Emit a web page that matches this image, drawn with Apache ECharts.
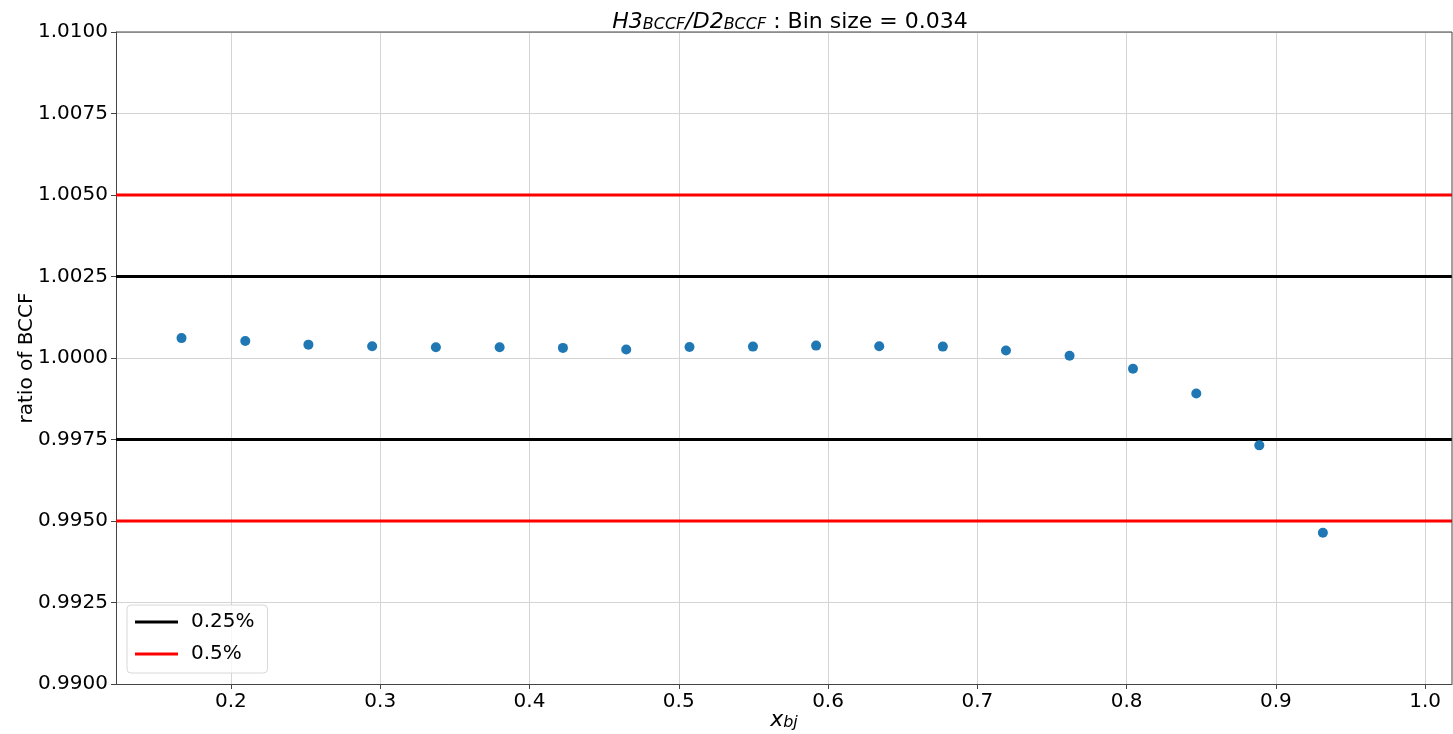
<!DOCTYPE html>
<html>
<head>
<meta charset="utf-8">
<script src="https://cdn.jsdelivr.net/npm/echarts@6/dist/echarts.min.js"></script>
<style>
  html, body { margin: 0; padding: 0; background: #fff; }
  #chart { width: 1453px; height: 734px; }
</style>
</head>
<body>
<div id="chart"></div>
<script>
// x_bj bin centres and the H3/D2 BCCF ratio in each bin
const xbj = [0.1669, 0.2096, 0.2519, 0.2946, 0.3373, 0.3800, 0.4224, 0.4648, 0.5072, 0.5497,
             0.5920, 0.6343, 0.6769, 0.7192, 0.7618, 0.8043, 0.8467, 0.8889, 0.9315];
const ratio = [1.00061, 1.00052, 1.00041, 1.00036, 1.00033, 1.00033, 1.00031, 1.00026, 1.00034, 1.00035,
               1.00038, 1.00036, 1.00035, 1.00023, 1.00007, 0.99967, 0.99891, 0.99732, 0.99464];

// tolerance bands
const band025 = [1.0025, 0.9975];
const band05 = [1.005, 0.995];

// axis tick values and ranges
const xTicks = [0.2, 0.3, 0.4, 0.5, 0.6, 0.7, 0.8, 0.9, 1.0];
const xRange = [0.123, 1.018];
const yRange = [0.99, 1.01];

const FONT = 'DejaVu Sans';
const chart = echarts.init(document.getElementById('chart'));

// one horizontal line across the full x range per band level
function bandSeries(name, color, level) {
  return {
    type: 'line',
    name: name,
    data: [[xRange[0], level], [xRange[1], level]],
    symbol: 'none',
    silent: true,
    color: color,
    lineStyle: { color: color, width: 3 },
    z: 3
  };
}

chart.setOption({
  animation: false,
  textStyle: { fontFamily: FONT },
  title: {
    text: '{i|H3}{s|BCCF}{i|/D2}{s|BCCF}{n| : Bin size = 0.034}',
    left: 785,
    textAlign: 'center',
    top: 1,
    textStyle: {
      fontWeight: 'normal',
      rich: {
        i: { fontFamily: FONT, fontStyle: 'italic', fontWeight: 'normal', fontSize: 22, color: '#000', verticalAlign: 'bottom', lineHeight: 27 },
        s: { fontFamily: FONT, fontStyle: 'italic', fontWeight: 'normal', fontSize: 16, color: '#000', verticalAlign: 'bottom', lineHeight: 19 },
        n: { fontFamily: FONT, fontWeight: 'normal', fontSize: 22, color: '#000', verticalAlign: 'bottom', lineHeight: 27 }
      }
    }
  },
  legend: {
    left: 127,
    top: 605,
    orient: 'vertical',
    padding: [7, 13, 9, 8],
    icon: 'rect',
    itemWidth: 43,
    itemHeight: 3,
    itemGap: 12,
    borderColor: '#d8d8d8',
    borderWidth: 1,
    borderRadius: 4,
    backgroundColor: 'rgba(255,255,255,0.8)',
    textStyle: { fontFamily: FONT, fontSize: 20, color: '#000', padding: [0, 0, 0, 8] },
    data: ['0.25%', '0.5%']
  },
  grid: { left: 116, right: 1, top: 32, bottom: 50, containLabel: false, outerBoundsMode: 'none' },
  xAxis: {
    type: 'value',
    min: xRange[0],
    max: xRange[1],
    name: '{i|x}{s|bj}',
    nameLocation: 'middle',
    nameGap: 21,
    nameMoveOverlap: false,
    nameTextStyle: {
      rich: {
        i: { fontFamily: FONT, fontStyle: 'italic', fontSize: 22, color: '#000', verticalAlign: 'bottom', lineHeight: 26 },
        s: { fontFamily: FONT, fontStyle: 'italic', fontSize: 16, color: '#000', verticalAlign: 'bottom', lineHeight: 18 }
      }
    },
    axisLine: { show: true, onZero: false, lineStyle: { color: '#444', width: 1 } },
    axisTick: { show: true, length: 5, lineStyle: { color: '#444' }, customValues: xTicks },
    axisLabel: {
      fontFamily: FONT, fontSize: 20, color: '#000', margin: 8,
      customValues: xTicks,
      formatter: v => v.toFixed(1)
    },
    splitLine: { show: true, lineStyle: { color: '#d4d4d4', width: 1 } }
  },
  yAxis: {
    type: 'value',
    min: yRange[0],
    max: yRange[1],
    interval: 0.0025,
    name: 'ratio of BCCF',
    nameLocation: 'middle',
    nameGap: 79,
    nameMoveOverlap: false,
    nameTextStyle: { fontFamily: FONT, fontSize: 20, color: '#000' },
    axisLine: { show: true, lineStyle: { color: '#444', width: 1 } },
    axisTick: { show: true, length: 5, lineStyle: { color: '#444' } },
    axisLabel: { fontFamily: FONT, fontSize: 20, color: '#000', margin: 8, formatter: v => v.toFixed(4) },
    splitLine: { show: true, lineStyle: { color: '#d4d4d4', width: 1 } }
  },
  series: [
    {
      type: 'scatter',
      name: 'ratio',
      data: xbj.map((x, i) => [x, ratio[i]]),
      symbolSize: 10,
      itemStyle: { color: '#1f77b4', opacity: 1 },
      z: 5
    },
    ...band025.map(v => bandSeries('0.25%', '#000000', v)),
    ...band05.map(v => bandSeries('0.5%', '#ff0000', v))
  ],
  graphic: [
    // frame on the top and right sides of the plot area
    { type: 'line', shape: { x1: 116, y1: 32, x2: 1452, y2: 32 }, style: { stroke: '#444', lineWidth: 1 }, z: 10 },
    { type: 'line', shape: { x1: 1452, y1: 32, x2: 1452, y2: 684 }, style: { stroke: '#444', lineWidth: 1 }, z: 10 }
  ]
});
</script>
</body>
</html>
